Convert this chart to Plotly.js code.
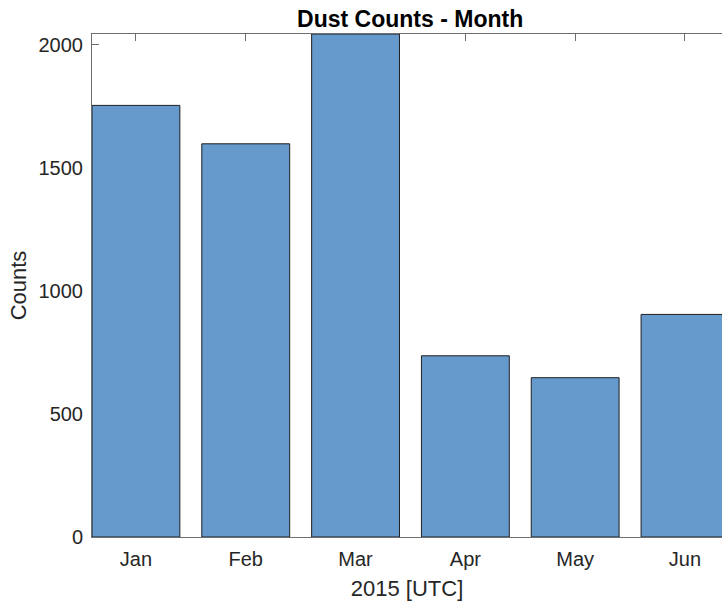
<!DOCTYPE html>
<html>
<head>
<meta charset="utf-8">
<script src="https://cdn.plot.ly/plotly-3.0.1.min.js"></script>
<style>html,body{margin:0;padding:0;background:#fff;}#chart{width:722px;height:601px;}</style>
</head>
<body>
<div id="chart"></div>
<script>
const months = ["Jan", "Feb", "Mar", "Apr", "May", "Jun"];
const counts = [1753, 1597, 2043, 736, 647, 904];
const yTicks = [0, 500, 1000, 1500, 2000];

const axisColor = "#6e6e6e";
const textColor = "#262626";
const font = "Liberation Sans, Arial, Helvetica, sans-serif";

const trace = {
  type: "bar",
  x: months,
  y: counts,
  marker: { color: "#6699cc", line: { color: "#1f1f1f", width: 1 } },
  hoverinfo: "x+y"
};

const layout = {
  width: 722,
  height: 601,
  margin: { l: 92, r: 0, t: 34, b: 64, pad: 0 },
  paper_bgcolor: "#ffffff",
  plot_bgcolor: "#ffffff",
  bargap: 0.2,
  showlegend: false,
  font: { family: font, size: 20, color: textColor },
  title: {
    text: "<b>Dust Counts - Month</b>",
    font: { family: font, size: 23, color: "#000000" },
    x: 0.505, xref: "paper", xanchor: "center",
    y: 1 - 19 / 601, yref: "container", yanchor: "middle"
  },
  xaxis: {
    type: "category",
    range: [-0.4, 5.337],
    tickvals: months,
    ticktext: months,
    ticks: "inside",
    ticklen: 7,
    tickwidth: 1,
    tickcolor: axisColor,
    showline: true,
    linecolor: axisColor,
    linewidth: 1,
    mirror: "ticks",
    showgrid: false,
    zeroline: false,
    layer: "below traces",
    tickfont: { family: font, size: 20, color: textColor },
    ticklabelstandoff: 4,
    title: { text: "2015 [UTC]", font: { family: font, size: 22, color: textColor }, standoff: 12 },
    automargin: false,
    fixedrange: true
  },
  yaxis: {
    range: [0, 2043],
    tickvals: yTicks,
    ticktext: yTicks.map(String),
    ticks: "inside",
    ticklen: 7,
    tickwidth: 1,
    tickcolor: axisColor,
    showline: true,
    linecolor: axisColor,
    linewidth: 1,
    mirror: false,
    showgrid: false,
    zeroline: false,
    layer: "below traces",
    tickfont: { family: font, size: 20, color: textColor },
    ticklabelstandoff: 4,
    title: { text: "Counts", font: { family: font, size: 22, color: textColor }, standoff: 5 },
    automargin: false,
    fixedrange: true
  }
};

Plotly.newPlot("chart", [trace], layout, { displayModeBar: false, staticPlot: true });
</script>
</body>
</html>
